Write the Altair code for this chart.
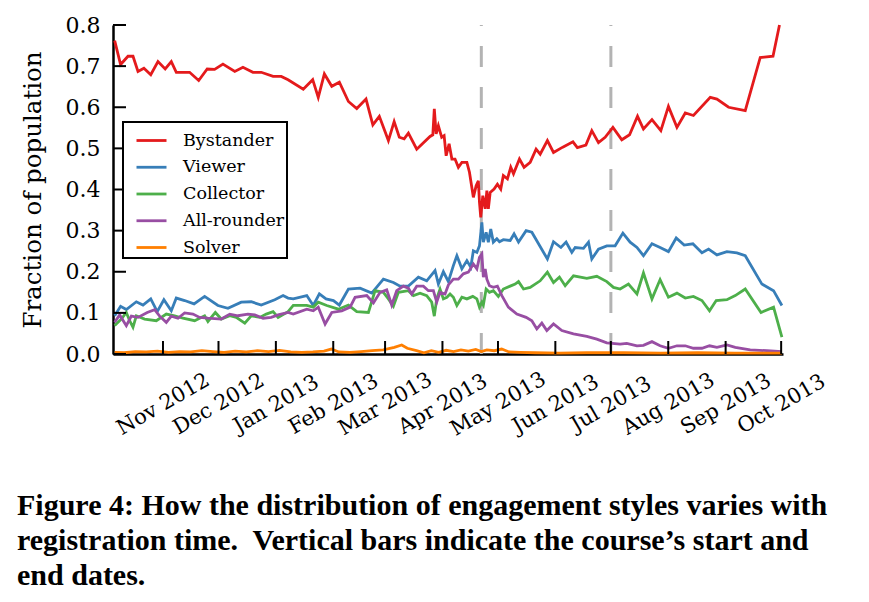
import altair as alt
import pandas as pd

# ---- data (days since 2012-10-01, fraction of population) ----
base = pd.Timestamp("2012-10-01")

bystander_days = [4.9, 8.1, 12.1, 14.8, 17.5, 20.7, 24.4, 28.3, 32.2, 35.5, 38.2, 45.4, 50.3, 54.9, 58.9, 63.4,
                  69.8, 74.2, 79.6, 84.1, 90.5, 94.9, 98.6, 106.8, 111.9, 114.9, 118.2, 122.2, 126.3, 131.2, 135.7,
                  140.7, 144.4, 147.9, 152.8, 155.9, 158.7, 161.3, 163.6, 168.1, 175.3, 176.8, 177.6, 178.6, 179.8,
                  181.6, 182.9, 184.0, 185.6, 187.1, 188.8, 190.6, 192.5, 195.2, 196.6, 198.7, 200.2, 201.4, 202.0,
                  202.7, 203.8, 205.1, 206.0, 206.8, 207.8, 209.9, 211.7, 213.5, 214.9, 217.1, 218.9, 220.4, 223.6,
                  226.1, 229.4, 232.6, 234.8, 238.7, 242.0, 247.0, 252.5, 254.9, 259.5, 262.7, 266.3, 269.9, 274.1,
                  278.9, 283.1, 287.4, 290.6, 295.2, 300.0, 304.1, 308.7, 313.2, 317.6, 326.7, 330.3, 336.6, 345.6,
                  353.7, 360.6, 364.1]
bystander_vals = [0.762, 0.704, 0.724, 0.724, 0.687, 0.695, 0.679, 0.711, 0.693, 0.711, 0.685, 0.685, 0.665, 0.693,
                  0.692, 0.705, 0.687, 0.697, 0.685, 0.685, 0.675, 0.675, 0.667, 0.644, 0.667, 0.624, 0.681, 0.651,
                  0.661, 0.614, 0.597, 0.620, 0.557, 0.578, 0.519, 0.565, 0.527, 0.523, 0.537, 0.498, 0.529, 0.533,
                  0.596, 0.535, 0.555, 0.527, 0.531, 0.482, 0.511, 0.474, 0.474, 0.454, 0.466, 0.466, 0.442, 0.381,
                  0.409, 0.421, 0.369, 0.332, 0.385, 0.353, 0.397, 0.353, 0.393, 0.401, 0.413, 0.401, 0.434, 0.426,
                  0.454, 0.438, 0.474, 0.454, 0.466, 0.498, 0.486, 0.519, 0.490, 0.503, 0.516, 0.502, 0.508, 0.543,
                  0.514, 0.527, 0.551, 0.521, 0.533, 0.578, 0.547, 0.570, 0.543, 0.602, 0.551, 0.586, 0.580, 0.624,
                  0.620, 0.600, 0.592, 0.721, 0.724, 0.800]

viewer_days = [4.9, 8.1, 11.2, 16.6, 20.2, 24.4, 27.9, 31.5, 35.5, 38.2, 42.7, 47.8, 53.5, 60.7, 66.1, 73.3, 78.7,
               84.1, 91.4, 95.9, 98.6, 101.4, 108.7, 112.2, 115.5, 119.1, 123.1, 126.3, 131.2, 137.5, 143.8, 150.1,
               155.5, 159.1, 163.6, 169.0, 173.5, 178.0, 179.8, 182.5, 185.2, 187.9, 189.8, 192.5, 195.2, 197.3,
               198.7, 200.6, 202.0, 203.3, 204.1, 205.6, 206.8, 208.1, 209.5, 211.4, 212.8, 214.9, 218.6, 220.7,
               223.1, 227.2, 230.3, 238.7, 242.0, 246.0, 248.8, 251.9, 253.7, 258.2, 260.9, 262.7, 266.3, 270.8,
               275.3, 279.5, 283.4, 287.1, 290.6, 295.2, 299.6, 304.1, 308.3, 312.6, 317.3, 322.2, 325.8, 330.3,
               335.7, 341.1, 345.6, 354.6, 360.9, 365.4]
viewer_vals = [0.093, 0.116, 0.108, 0.127, 0.119, 0.134, 0.103, 0.132, 0.105, 0.136, 0.130, 0.122, 0.140, 0.118,
               0.111, 0.126, 0.127, 0.119, 0.132, 0.142, 0.136, 0.134, 0.142, 0.118, 0.146, 0.134, 0.130, 0.119,
               0.158, 0.160, 0.148, 0.182, 0.174, 0.165, 0.165, 0.187, 0.178, 0.203, 0.170, 0.200, 0.176, 0.215,
               0.239, 0.207, 0.227, 0.211, 0.251, 0.247, 0.263, 0.320, 0.272, 0.296, 0.272, 0.304, 0.272, 0.280,
               0.273, 0.278, 0.276, 0.292, 0.272, 0.300, 0.296, 0.231, 0.273, 0.259, 0.272, 0.247, 0.259, 0.257,
               0.272, 0.231, 0.255, 0.263, 0.263, 0.294, 0.272, 0.259, 0.239, 0.268, 0.259, 0.249, 0.282, 0.265,
               0.268, 0.246, 0.255, 0.241, 0.249, 0.246, 0.239, 0.170, 0.154, 0.118]

collector_days = [4.9, 8.5, 11.2, 13.0, 14.8, 16.6, 21.1, 27.4, 32.8, 37.3, 41.8, 48.1, 53.5, 55.3, 59.3, 62.5,
                  67.1, 70.6, 75.2, 78.7, 83.3, 86.8, 90.5, 93.2, 98.6, 101.4, 108.7, 112.2, 114.9, 119.5, 125.8,
                  131.2, 135.7, 142.0, 145.6, 150.1, 152.8, 155.5, 158.2, 163.6, 166.3, 169.9, 173.5, 176.2, 177.6,
                  178.9, 180.7, 182.5, 184.4, 186.1, 187.9, 189.8, 192.5, 195.2, 198.4, 200.6, 202.0, 203.3, 204.1,
                  205.6, 207.4, 209.5, 212.2, 214.9, 218.6, 221.3, 223.1, 225.8, 229.4, 234.8, 238.7, 242.0, 245.2,
                  248.3, 252.8, 260.0, 265.4, 270.8, 274.4, 278.0, 282.5, 287.1, 290.6, 295.2, 299.6, 304.1, 308.7,
                  313.2, 317.6, 322.2, 326.3, 329.9, 335.7, 340.2, 345.6, 354.1, 360.9, 365.4]
collector_vals = [0.069, 0.085, 0.101, 0.081, 0.065, 0.093, 0.085, 0.081, 0.097, 0.093, 0.087, 0.081, 0.093, 0.079,
                  0.101, 0.085, 0.093, 0.089, 0.075, 0.093, 0.089, 0.097, 0.103, 0.089, 0.103, 0.118, 0.118, 0.114,
                  0.126, 0.118, 0.109, 0.119, 0.103, 0.101, 0.154, 0.150, 0.134, 0.116, 0.150, 0.154, 0.142, 0.148,
                  0.142, 0.126, 0.092, 0.134, 0.158, 0.134, 0.138, 0.146, 0.138, 0.118, 0.138, 0.134, 0.140, 0.134,
                  0.114, 0.126, 0.119, 0.158, 0.150, 0.154, 0.140, 0.158, 0.165, 0.170, 0.176, 0.158, 0.162, 0.178,
                  0.199, 0.174, 0.187, 0.166, 0.190, 0.184, 0.189, 0.176, 0.162, 0.158, 0.170, 0.146, 0.197, 0.134,
                  0.181, 0.138, 0.148, 0.136, 0.140, 0.130, 0.105, 0.130, 0.132, 0.142, 0.158, 0.101, 0.114, 0.041]

allrounder_days = [4.9, 7.6, 11.2, 13.9, 17.5, 22.5, 26.5, 29.2, 32.8, 35.5, 39.1, 42.7, 47.2, 50.8, 55.3, 62.5,
                   67.1, 71.5, 76.9, 80.6, 85.1, 89.5, 93.2, 98.6, 101.4, 108.7, 112.2, 114.9, 118.6, 122.2, 127.6,
                   132.1, 134.8, 141.1, 144.7, 148.3, 151.9, 154.6, 157.3, 160.9, 163.6, 165.4, 168.1, 171.7, 174.4,
                   177.1, 178.9, 180.7, 183.4, 185.2, 187.9, 190.6, 193.3, 196.0, 198.7, 200.6, 202.0, 203.3, 204.1,
                   205.1, 206.0, 207.4, 209.5, 211.7, 214.1, 217.6, 222.2, 227.2, 230.3, 233.0, 235.7, 238.4, 242.0,
                   246.5, 252.8, 260.0, 265.4, 270.8, 278.0, 281.6, 287.1, 290.6, 295.2, 299.6, 304.1, 308.7, 313.2,
                   317.6, 322.2, 326.3, 330.3, 335.7, 340.2, 348.3, 357.3, 365.4]
allrounder_vals = [0.077, 0.095, 0.069, 0.092, 0.089, 0.101, 0.108, 0.092, 0.077, 0.092, 0.087, 0.100, 0.097, 0.089,
                   0.087, 0.085, 0.097, 0.093, 0.097, 0.095, 0.087, 0.089, 0.095, 0.101, 0.097, 0.109, 0.105, 0.114,
                   0.073, 0.101, 0.105, 0.114, 0.138, 0.142, 0.124, 0.150, 0.156, 0.119, 0.154, 0.165, 0.160, 0.146,
                   0.165, 0.165, 0.154, 0.154, 0.126, 0.150, 0.146, 0.168, 0.182, 0.182, 0.195, 0.199, 0.219, 0.207,
                   0.235, 0.243, 0.187, 0.207, 0.182, 0.166, 0.162, 0.165, 0.142, 0.114, 0.097, 0.089, 0.081, 0.061,
                   0.075, 0.057, 0.073, 0.057, 0.049, 0.043, 0.036, 0.027, 0.024, 0.026, 0.020, 0.021, 0.030, 0.020,
                   0.014, 0.020, 0.020, 0.014, 0.014, 0.020, 0.016, 0.022, 0.016, 0.010, 0.008, 0.006]

solver_days = [4.9, 10, 16, 22, 28, 34, 40, 46, 52, 58, 64, 70, 76, 82, 88, 94, 100, 106, 112, 118, 122, 126, 132,
               138, 144, 150, 156, 160, 163, 168, 172, 176, 180, 184, 188, 192, 196, 200, 203, 206, 210, 214, 218,
               224, 232, 245, 260, 280, 300, 320, 340, 365.4]
solver_vals = [0.004, 0.003, 0.006, 0.005, 0.007, 0.004, 0.006, 0.005, 0.008, 0.006, 0.004, 0.007, 0.005, 0.008,
               0.006, 0.009, 0.005, 0.004, 0.005, 0.007, 0.012, 0.005, 0.004, 0.006, 0.008, 0.010, 0.016, 0.022,
               0.014, 0.008, 0.003, 0.008, 0.004, 0.009, 0.006, 0.010, 0.007, 0.011, 0.006, 0.010, 0.008, 0.012,
               0.005, 0.004, 0.003, 0.002, 0.003, 0.003, 0.002, 0.003, 0.002, 0.002]

series_names = ["Bystander", "Viewer", "Collector", "All-rounder", "Solver"]
series_colors = ["#e41a1c", "#377eb8", "#4daf4a", "#984ea3", "#ff7f00"]

course_dates = ["2013-04-22", "2013-07-01"]
month_ticks = [(2012, 11), (2012, 12), (2013, 1), (2013, 2), (2013, 3), (2013, 4), (2013, 5), (2013, 6),
               (2013, 7), (2013, 8), (2013, 9), (2013, 10)]
y_ticks = [0.0, 0.1, 0.2, 0.3, 0.4, 0.5, 0.6, 0.7, 0.8]

caption = ["Figure 4: How the distribution of engagement styles varies with",
           "registration time.\u00a0 Vertical bars indicate the course\u2019s start and",
           "end dates."]

# ---- build tables ----
frames = []
for name, d, v in [("Bystander", bystander_days, bystander_vals), ("Viewer", viewer_days, viewer_vals),
                   ("Collector", collector_days, collector_vals), ("All-rounder", allrounder_days, allrounder_vals),
                   ("Solver", solver_days, solver_vals)]:
    f = pd.DataFrame({"day": d, "value": v})
    f["series"] = name
    frames.append(f)
df = pd.concat(frames, ignore_index=True)
df["date"] = (base + pd.to_timedelta(df["day"], unit="D")).dt.strftime("%Y-%m-%dT%H:%M:%S")

course_df = pd.DataFrame({"date": [c + "T00:00:00" for c in course_dates]})
xt_df = pd.DataFrame({"date": [f"{y}-{m:02d}-01T00:00:00" for y, m in month_ticks]})
yt_df = pd.DataFrame({"v": y_ticks})

FONT = "DejaVu Serif"
W, H = 670, 329

x_scale = alt.Scale(domain=[alt.DateTime(year=2012, month=10, date=5), alt.DateTime(year=2013, month=10, date=2)])
y_scale = alt.Scale(domain=[0, 0.8])

x_axis = alt.Axis(values=[alt.DateTime(year=y, month=m, date=1) for y, m in month_ticks], format="%b %Y",
                  ticks=False, grid=False, title=None, labelAngle=-30, labelAlign="center",
                  labelBaseline="middle", labelPadding=50, labelFont=FONT, labelFontSize=21,
                  labelColor="black", labelOverlap=False, labelFlush=False, domainColor="black",
                  domainWidth=2.5)
y_axis = alt.Axis(values=y_ticks, format=".1f", ticks=False, grid=False, title="Fraction of population",
                  labelFont=FONT, labelFontSize=22, labelColor="black", labelPadding=13,
                  titleFont=FONT, titleFontSize=24.5, titleFontWeight="normal", titleColor="black",
                  titlePadding=20, domainColor="black", domainWidth=2.5)

vlines = alt.Chart(course_df).mark_rule(color="#b3b3b3", strokeWidth=3, strokeDash=[21, 20]).encode(
    x=alt.X("date:T", scale=x_scale, axis=x_axis),
    y=alt.datum(0, scale=y_scale),
    y2=alt.datum(0.8),
)

lines = alt.Chart(df).mark_line(strokeWidth=2.8).encode(
    x=alt.X("date:T", scale=x_scale, axis=x_axis),
    y=alt.Y("value:Q", scale=y_scale, axis=y_axis),
    color=alt.Color("series:N", scale=alt.Scale(domain=series_names, range=series_colors),
                    sort=series_names,
                    legend=alt.Legend(orient="none", legendX=10, legendY=97, title=None,
                                      symbolType="stroke", symbolSize=900, symbolStrokeWidth=2.8,
                                      symbolOffset=10,
                                      labelFont=FONT, labelFontSize=17.5, labelColor="black",
                                      fillColor="white", strokeColor="black",
                                      padding=2, rowPadding=1.75, labelOffset=15)),
    order=alt.Order("day:Q"),
)

xticks = alt.Chart(xt_df).mark_rule(color="black", strokeWidth=2).encode(
    x=alt.X("date:T", scale=x_scale), y=alt.value(H), y2=alt.value(H - 13))
yticks = alt.Chart(yt_df).mark_rule(color="black", strokeWidth=2).encode(
    y=alt.Y("v:Q", scale=y_scale), x=alt.value(0), x2=alt.value(13))

chart = alt.layer(vlines, lines, xticks, yticks).properties(
    width=W, height=H,
    padding={"left": 9, "top": 6, "right": 5, "bottom": 5},
    title=alt.TitleParams(text=caption, orient="bottom", anchor="start", frame="bounds",
                          font="Liberation Serif", fontSize=30, fontWeight="bold", color="black",
                          lineHeight=35, offset=52, dx=-3),
).configure_view(strokeWidth=0).configure_legend(strokeWidth=2)

chart.save("out.html", embed_options={"renderer": "svg", "actions": False})
